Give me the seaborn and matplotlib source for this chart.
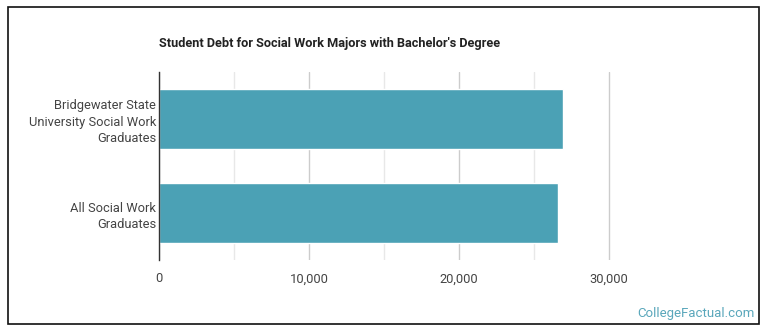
import matplotlib
matplotlib.use("Agg")
import matplotlib.pyplot as plt
from matplotlib.patches import Rectangle
from matplotlib.ticker import FuncFormatter, MultipleLocator
import pandas as pd
import seaborn as sns

# chart data
groups = ["Bridgewater State\nUniversity Social Work\nGraduates",
          "All Social Work\nGraduates"]
debt = [26950, 26620]
x_ticks = [0, 10000, 20000, 30000]

df = pd.DataFrame({"group": groups, "debt": debt})

sns.set_style("white")
plt.rcParams["font.family"] = ["Roboto", "DejaVu Sans"]

fig = plt.figure(figsize=(7.7, 3.35), dpi=100)
ax = fig.add_axes([159 / 770, 1 - 260 / 335, 452 / 770, 188 / 335])

sns.barplot(data=df, x="debt", y="group", orient="h", color="#4ba1b5",
            saturation=1, width=0.64, ax=ax)

ax.set_xlim(0, 30133)  # a little room so the 30,000 line isn't clipped
ax.set_xticks(x_ticks)
ax.xaxis.set_minor_locator(MultipleLocator(5000))
ax.xaxis.set_major_formatter(FuncFormatter(lambda v, p: f"{int(v):,}"))
ax.grid(axis="x", which="major", color="#cccccc", lw=1)
ax.grid(axis="x", which="minor", color="#e8e8e8", lw=1)
ax.set_axisbelow(True)
ax.set_xlabel("")
ax.set_ylabel("")
for s in ["top", "right", "bottom"]:
    ax.spines[s].set_visible(False)
ax.spines["left"].set_color("#333333")
ax.spines["left"].set_linewidth(1)
ax.tick_params(axis="both", which="both", length=0, labelcolor="#444444")
ax.tick_params(axis="x", labelsize=9.3, pad=9)
ax.tick_params(axis="y", labelsize=9.3, pad=2)
for lbl in ax.get_yticklabels():
    lbl.set_linespacing(1.35)

fig.text(159 / 770, 1 - 44 / 335, "Student Debt for Social Work Majors with Bachelor's Degree",
         fontsize=9.2, fontweight="bold", color="#222222", va="center", ha="left")
fig.text(755 / 770, 1 - 313 / 335, "CollegeFactual.com", fontsize=9.5,
         color="#5aa7bb", ha="right", va="center")

fig.patches.append(Rectangle((8 / 770, 1 - 324 / 335), 751 / 770, 317 / 335,
                             transform=fig.transFigure, fill=False,
                             edgecolor="#111111", lw=1.2))

fig.savefig("out.png", dpi=100)
